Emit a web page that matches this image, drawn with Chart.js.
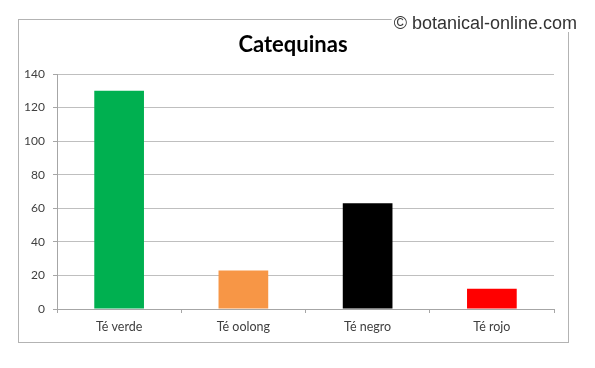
<!DOCTYPE html>
<html>
<head>
<meta charset="utf-8">
<script src="https://cdn.jsdelivr.net/npm/chart.js@4/dist/chart.umd.min.js"></script>
<style>
  html, body { margin: 0; padding: 0; background: #fff; }
  #wrap { width: 595px; height: 368px; position: relative; }
</style>
</head>
<body>
<div id="wrap"><canvas id="myChart" width="595" height="368"></canvas></div>
<script>
const categories = ["Té verde", "Té oolong", "Té negro", "Té rojo"];
const catechinValues = [130, 23, 63, 12];
const barColors = ["#00b050", "#f79646", "#000000", "#ff0000"];
const yTicks = [0, 20, 40, 60, 80, 100, 120, 140];

const chartTitle = "Catequinas";
const watermark = "\u00a9 botanical-online.com";

// frame, title and watermark drawn by hand
const decorations = {
  id: "decorations",
  beforeDraw(chart) {
    const c = chart.ctx;
    c.save();
    c.fillStyle = "#fff";
    c.fillRect(0, 0, chart.width, chart.height);
    c.strokeStyle = "#b3b3b3";
    c.lineWidth = 1;
    c.strokeRect(18.5, 19.5, 550, 323);
    c.restore();
  },
  afterDraw(chart) {
    const c = chart.ctx;
    c.save();
    c.font = "bold 22px Lato";
    c.fillStyle = "#000";
    c.textAlign = "center";
    c.textBaseline = "alphabetic";
    c.fillText(chartTitle, 293, 52);

    c.font = "18px 'Liberation Sans'";
    const w = c.measureText(watermark).width;
    c.fillStyle = "#fff";
    c.fillRect(577 - w - 2, 13, w + 2, 19);
    c.fillStyle = "#333";
    c.textAlign = "right";
    c.fillText(watermark, 577, 29);
    c.restore();
  }
};

const ctx = document.getElementById("myChart").getContext("2d");
const chart = new Chart(ctx, {
  type: "bar",
  data: {
    labels: categories,
    datasets: [
      {
        label: chartTitle,
        data: catechinValues,
        backgroundColor: barColors,
        borderWidth: 0,
        barPercentage: 0.4,
        categoryPercentage: 1
      }
    ]
  },
  options: {
    responsive: false,
    animation: false,
    layout: { padding: { left: 0, top: 74, right: 41, bottom: 0 } },
    plugins: {
      legend: { display: false },
      title: { display: false },
      tooltip: { enabled: false }
    },
    scales: {
      x: {
        offset: true,
        grid: {
          offset: true,
          drawOnChartArea: false,
          drawTicks: true,
          tickLength: 4,
          color: "#a6a6a6"
        },
        border: { color: "#a6a6a6" },
        ticks: {
          color: "#404040",
          font: { family: "Lato", size: 12.5 },
          padding: 6
        },
        afterFit(scale) { scale.height = 59; }
      },
      y: {
        min: 0,
        max: 140,
        afterBuildTicks(scale) { scale.ticks = yTicks.map(v => ({ value: v })); },
        grid: {
          color: "#bfbfbf",
          tickLength: 4,
          tickColor: "#a6a6a6"
        },
        border: { color: "#a6a6a6" },
        ticks: {
          color: "#404040",
          font: { family: "Lato", size: 12 },
          padding: 8
        },
        afterFit(scale) { scale.width = 57; }
      }
    }
  },
  plugins: [decorations]
});
</script>
</body>
</html>
